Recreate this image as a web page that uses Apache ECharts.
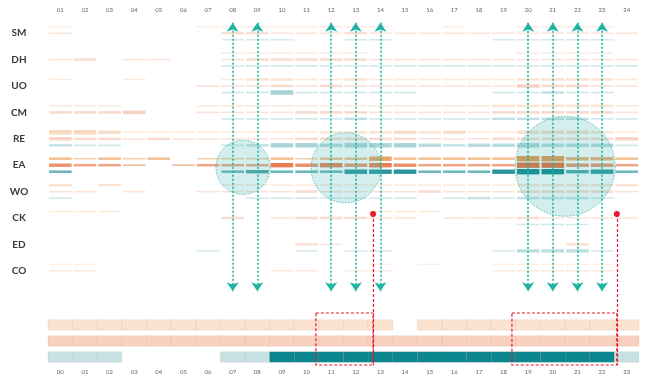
<!DOCTYPE html>
<html><head><meta charset="utf-8">
<script src="https://cdn.jsdelivr.net/npm/echarts@6/dist/echarts.min.js"></script>
<style>html,body{margin:0;padding:0;background:#fff}#c{width:650px;height:381px}</style>
</head><body><div id="c"></div>
<script>
const topHours = ['01','02','03','04','05','06','07','08','09','10','11','12','13','14','15','16','17','18','19','20','21','22','23','24'];
const bottomHours = ['00','01','02','03','04','05','06','07','08','09','10','11','12','13','14','15','16','17','18','19','20','21','22','23'];
const rows = ['SM','DH','UO','CM','RE','EA','WO','CK','ED','CO'];
const bottomRows = ['peach','salmon','teal'];

// stripe intensity (0-5) per row: peach (upper), salmon (middle), teal (lower)
const SM_peach  = [1,0,0,0,0,0,1,1,1,1,1,1,1,1,0,0,1,0,0,1,1,1,1,0];
const SM_salmon = [1,0,0,0,0,0,0,2,2,1,1,1,2,1,1,1,1,1,1,1,1,1,1,1];
const SM_teal   = [0,0,0,0,0,0,0,1,1,1,0,0,1,1,0,0,0,0,1,1,1,1,1,0];
const DH_peach  = [0,0,0,0,0,0,0,1,1,1,1,1,1,0,0,0,0,0,0,1,1,1,1,0];
const DH_salmon = [1,2,0,1,1,0,0,1,2,2,2,2,2,1,1,1,1,1,1,1,1,1,1,1];
const DH_teal   = [0,0,0,0,0,0,0,1,1,1,1,1,1,1,1,1,1,1,1,1,1,1,1,1];
const UO_peach  = [1,0,0,1,0,0,0,1,2,2,1,1,2,1,1,1,1,1,1,2,2,2,2,1];
const UO_salmon = [0,0,0,0,0,0,1,1,1,2,1,2,1,1,1,1,1,1,1,3,2,2,1,1];
const UO_teal   = [0,0,0,0,0,0,0,1,1,4,1,1,1,1,1,0,0,0,1,1,2,1,1,0];
const CM_peach  = [1,1,1,0,0,0,1,1,1,1,1,1,1,1,1,1,1,1,2,2,2,2,2,1];
const CM_salmon = [2,2,2,3,0,0,1,1,1,1,2,2,2,1,1,1,1,1,2,2,2,2,2,1];
const CM_teal   = [0,0,0,0,0,0,0,1,1,1,1,1,2,1,1,1,1,1,2,2,2,2,1,1];
const RE_peach  = [4,4,3,1,1,1,1,1,1,1,1,2,2,2,3,2,3,1,1,3,3,3,2,1];
const RE_salmon = [3,2,2,1,2,1,1,1,1,1,2,2,2,2,2,1,1,1,2,2,2,2,2,3];
const RE_teal   = [2,1,1,0,0,0,0,1,2,4,4,3,4,4,4,3,2,3,3,4,3,3,3,1];
const EA_peach  = [2,1,2,1,2,0,1,1,1,2,1,2,2,4,2,2,2,2,2,5,5,3,3,2];
const EA_salmon = [3,2,2,1,0,1,2,2,2,4,3,4,3,4,3,2,2,2,2,5,5,3,3,2];
const EA_teal   = [2,0,0,0,0,0,0,2,3,2,2,2,4,4,4,2,2,2,4,5,5,3,4,2];
const WO_peach  = [2,0,2,0,0,0,0,1,1,1,1,1,1,1,1,1,1,1,1,2,2,2,2,2];
const WO_salmon = [1,1,0,1,0,0,1,1,1,1,2,1,1,1,1,2,1,1,1,2,2,2,2,1];
const WO_teal   = [1,0,0,0,0,0,0,0,1,1,1,1,1,1,1,0,1,2,1,2,2,2,1,0];
const CK_peach  = [1,1,1,0,0,0,0,0,0,0,0,0,0,1,1,1,0,0,0,0,0,0,0,0];
const CK_salmon = [0,0,0,0,0,0,0,2,0,1,2,2,2,1,1,0,1,1,1,2,1,1,1,1];
const CK_teal   = [0,0,0,0,0,0,0,0,0,0,0,0,0,0,0,0,0,0,0,1,1,1,0,0];
const ED_peach  = [0,0,0,0,0,0,0,0,0,0,0,0,0,0,0,0,0,0,0,0,0,0,0,0];
const ED_salmon = [0,0,0,0,0,0,0,0,0,0,2,1,0,0,0,0,0,0,0,0,0,2,0,0];
const ED_teal   = [0,0,0,0,0,0,1,0,0,0,1,0,1,1,0,0,0,0,1,3,3,3,1,0];
const CO_peach  = [1,1,0,0,0,0,0,0,0,0,0,0,0,1,0,1,0,0,1,1,1,1,1,0];
const CO_salmon = [1,1,0,0,0,0,0,0,0,1,1,0,1,1,0,0,0,0,1,1,1,1,1,0];
const CO_teal   = [0,0,0,0,0,0,0,0,0,0,0,0,0,0,0,0,0,0,0,0,0,0,0,0];

// bottom strip: 0 none, 1 light, 2 dark
const bottomPeach  = [1,1,1,1,1,1,1,1,1,1,1,1,1,1,0,1,1,1,1,1,1,1,1,1];
const bottomSalmon = [1,1,1,1,1,1,1,1,1,1,1,1,1,1,1,1,1,1,1,1,1,1,1,1];
const bottomTeal   = [1,1,1,0,0,0,0,1,1,2,2,2,2,2,2,2,2,2,2,2,2,2,2,1];

// annotations
const arrowHours = ['08','09','12','13','14','20','21','22','23'];
const focusCircles = [ // [column position, row position, radius in columns]
  [7.42, 5.08, 1.1], [11.6, 5.1, 1.42], [20.5, 5.04, 2.03]
];
const redMarks = [ // [window start hour, window end hour (red marker), marker row]
  [10.38, 12.7, 6.85], [18.34, 22.6, 6.85]
];

const stripeTable = [
  [SM_peach,SM_salmon,SM_teal],[DH_peach,DH_salmon,DH_teal],[UO_peach,UO_salmon,UO_teal],
  [CM_peach,CM_salmon,CM_teal],[RE_peach,RE_salmon,RE_teal],[EA_peach,EA_salmon,EA_teal],
  [WO_peach,WO_salmon,WO_teal],[CK_peach,CK_salmon,CK_teal],[ED_peach,ED_salmon,ED_teal],
  [CO_peach,CO_salmon,CO_teal]
];
const stripeData = [];
stripeTable.forEach((subs, r) => subs.forEach((arr, s) => arr.forEach((v, c) => {
  if (v > 0) stripeData.push([c, r, s, v]);
})));
const bottomData = [];
[bottomPeach, bottomSalmon, bottomTeal].forEach((arr, r) => arr.forEach((v, c) => {
  if (v > 0) bottomData.push([c, r, v]);
}));

const subColors = ['235,150,75', '229,108,58', '12,134,143'];
const rowAlpha = [0.36,0.4,0.42,0.42,0.4,1,0.4,0.4,0.36,0.3];

function renderStripe(params, api) {
  const col = api.value(0), row = api.value(1), sub = api.value(2), v = api.value(3);
  const c = api.coord([col, row]);
  const s = api.size([1, 1]);
  const h = 0.6 + v * 0.95;
  const w = s[0] - 2;
  const cy = c[1] + (sub - 1) * 6.5;
  const a = Math.min(1, rowAlpha[row] * (0.35 + 0.13 * v));
  return { type: 'rect', shape: { x: c[0] - w / 2, y: cy - h / 2, width: w, height: h },
    style: { fill: 'rgba(' + subColors[sub] + ',' + a + ')' } };
}

const bottomColors = [['#FCE3D0','#FCE3D0'], ['#FAD1C0','#FAD1C0'], ['#C8E2E4','#0B8790']];
function renderBottom(params, api) {
  const col = api.value(0), row = api.value(1), v = api.value(2);
  const c = api.coord([col, row]);
  const s = api.size([1, 1]);
  const h = 10.5;
  return { type: 'rect', shape: { x: c[0] - s[0] / 2, y: c[1] - h / 2, width: s[0], height: h },
    style: { fill: bottomColors[row][v - 1], stroke: 'rgba(120,80,60,0.10)', lineWidth: 0.8 } };
}

function renderCircle(params, api) {
  const c = api.coord([api.value(0), api.value(1)]);
  const r = api.size([api.value(2), 0])[0];
  return { type: 'circle', shape: { cx: c[0], cy: c[1], r: r },
    style: { fill: 'rgba(70,185,175,0.24)', stroke: 'rgba(50,175,165,0.8)', lineWidth: 1, lineDash: [1.5, 1.5] } };
}

function renderRedRect(params, api) {
  const p1 = api.coord([api.value(0), -0.75]);
  const p2 = api.coord([api.value(1), 2.5]);
  return { type: 'rect', shape: { x: p1[0], y: p1[1], width: p2[0] - p1[0], height: p2[1] - p1[1] },
    style: { fill: 'none', stroke: '#E8192C', lineWidth: 1.2, lineDash: [3, 2] } };
}

const chart = echarts.init(document.getElementById('c'), null, { renderer: 'canvas' });
chart.setOption({
  animation: false,
  backgroundColor: '#fff',
  grid: [
    { left: 48, width: 591, top: 20, height: 264 },
    { left: 48, width: 591, top: 317, height: 48 }
  ],
  xAxis: [
    { type: 'category', gridIndex: 0, position: 'top', data: topHours,
      axisLine: { show: false }, axisTick: { show: false }, splitLine: { show: false },
      axisLabel: { fontSize: 6, color: '#666', margin: 7, fontFamily: 'Lato' } },
    { type: 'value', gridIndex: 0, min: -0.5, max: 23.5, show: false },
    { type: 'category', gridIndex: 1, position: 'bottom', data: bottomHours,
      axisLine: { show: false }, axisTick: { show: false }, splitLine: { show: false },
      axisLabel: { fontSize: 6, color: '#666', margin: 4, fontFamily: 'Lato' } },
    { type: 'value', gridIndex: 1, min: -0.5, max: 23.5, show: false }
  ],
  yAxis: [
    { type: 'category', gridIndex: 0, inverse: true, data: rows,
      axisLine: { show: false }, axisTick: { show: false }, splitLine: { show: false },
      axisLabel: { fontSize: 10, color: '#3a3a3a', fontWeight: 'bold', fontFamily: 'Lato', margin: 29, align: 'center' } },
    { type: 'value', gridIndex: 0, min: -0.5, max: 9.5, inverse: true, show: false },
    { type: 'category', gridIndex: 1, inverse: true, data: bottomRows, show: false },
    { type: 'value', gridIndex: 1, min: -0.5, max: 2.5, inverse: true, show: false }
  ],
  series: [
    { type: 'custom', xAxisIndex: 0, yAxisIndex: 0, renderItem: renderStripe, data: stripeData, silent: true, z: 1 },
    { type: 'custom', xAxisIndex: 2, yAxisIndex: 2, renderItem: renderBottom, data: bottomData, silent: true, z: 1 },
    { type: 'custom', xAxisIndex: 1, yAxisIndex: 1, renderItem: renderCircle, data: focusCircles, silent: true, z: 2, clip: false },
    { type: 'lines', coordinateSystem: 'cartesian2d', xAxisIndex: 1, yAxisIndex: 1, silent: true, z: 3, clip: false,
      symbol: ['arrow', 'arrow'], symbolSize: 9,
      lineStyle: { color: '#1FB3A3', width: 1.6, type: [2, 2], opacity: 1 },
      itemStyle: { color: '#1FB3A3' },
      data: arrowHours.map(h => ({ coords: [[topHours.indexOf(h), -0.4], [topHours.indexOf(h), 9.77]] })) },
    { type: 'lines', coordinateSystem: 'cartesian2d', xAxisIndex: 1, yAxisIndex: 1, silent: true, z: 4, clip: false,
      symbol: ['circle', 'none'], symbolSize: 6,
      lineStyle: { color: '#E8192C', width: 1.2, type: [3, 2], opacity: 1 },
      itemStyle: { color: '#E8192C' },
      data: redMarks.map(m => ({ coords: [[m[1], m[2]], [m[1], 12.58]] })) },
    { type: 'custom', xAxisIndex: 3, yAxisIndex: 3, renderItem: renderRedRect, data: redMarks, silent: true, z: 4, clip: false }
  ]
});
</script>
</body></html>
